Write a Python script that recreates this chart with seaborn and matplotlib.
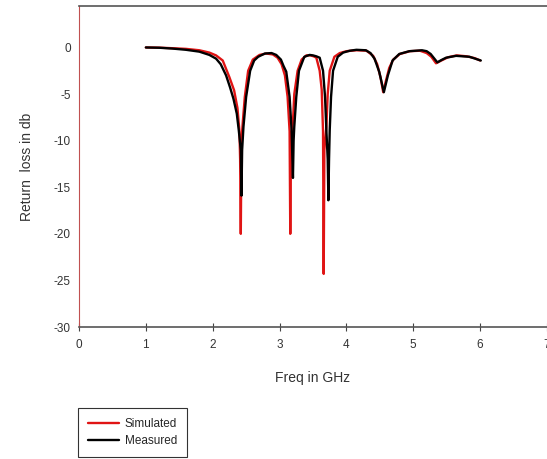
import matplotlib
matplotlib.use("Agg")
import matplotlib.pyplot as plt
import seaborn as sns
import pandas as pd

freq_sim = [1.00, 1.20, 1.40, 1.60, 1.80, 1.95, 2.05, 2.15, 2.25, 2.32, 2.37, 2.40, 2.41, 2.42,
            2.43, 2.45, 2.48, 2.53, 2.60, 2.70, 2.80, 2.90, 2.97, 3.03, 3.08, 3.12, 3.15, 3.16,
            3.17, 3.20, 3.22, 3.27, 3.33, 3.40, 3.46, 3.51, 3.55, 3.60, 3.63, 3.65, 3.66, 3.67,
            3.70, 3.72, 3.75, 3.82, 3.90, 4.00, 4.15, 4.30, 4.40, 4.46, 4.51, 4.55, 4.59, 4.64,
            4.70, 4.80, 4.95, 5.10, 5.20, 5.27, 5.34, 5.42, 5.52, 5.65, 5.80, 5.92, 6.00]
db_sim = [0.0, -0.02, -0.08, -0.15, -0.3, -0.55, -0.85, -1.4, -3.2, -4.6, -6.5, -9.0, -12.0, -20.0,
          -10.0, -8.0, -5.3, -2.5, -1.3, -0.8, -0.65, -0.75, -1.1, -1.8, -3.0, -5.3, -9.0, -20.0,
          -10.0, -8.0, -5.0, -2.5, -1.3, -0.85, -0.85, -0.95, -1.1, -2.5, -4.5, -9.0, -24.3, -11.0,
          -8.5, -5.0, -2.5, -1.0, -0.6, -0.4, -0.3, -0.35, -0.9, -1.8, -3.2, -4.8, -3.6, -2.2,
          -1.3, -0.7, -0.4, -0.35, -0.6, -1.0, -1.7, -1.4, -1.05, -0.85, -0.95, -1.15, -1.4]

freq_meas = [1.00, 1.20, 1.40, 1.60, 1.80, 1.95, 2.05, 2.12, 2.20, 2.26, 2.31, 2.36, 2.39, 2.42,
             2.43, 2.44, 2.46, 2.50, 2.56, 2.62, 2.68, 2.78, 2.88, 2.95, 3.02, 3.06, 3.10, 3.15,
             3.18, 3.20, 3.21, 3.22, 3.25, 3.29, 3.37, 3.45, 3.50, 3.55, 3.60, 3.65, 3.68, 3.70,
             3.72, 3.73, 3.74, 3.75, 3.77, 3.80, 3.87, 3.95, 4.05, 4.15, 4.29, 4.36, 4.42, 4.49,
             4.56, 4.62, 4.69, 4.79, 4.94, 5.13, 5.20, 5.26, 5.36, 5.42, 5.49, 5.64, 5.84, 6.01]
db_meas = [0.0, -0.03, -0.12, -0.25, -0.45, -0.8, -1.2, -1.8, -3.0, -4.3, -5.5, -7.1, -8.9, -11.0,
           -15.9, -11.0, -8.5, -5.3, -2.5, -1.4, -1.0, -0.65, -0.6, -0.8, -1.3, -2.0, -2.6, -5.3,
           -8.9, -14.0, -10.0, -8.5, -5.3, -2.5, -1.0, -0.8, -0.85, -0.95, -1.1, -2.5, -5.3, -8.9,
           -12.0, -16.4, -12.0, -8.9, -5.3, -2.5, -1.0, -0.55, -0.35, -0.25, -0.3, -0.6, -1.2, -2.6,
           -4.8, -3.0, -1.4, -0.7, -0.4, -0.3, -0.4, -0.7, -1.6, -1.35, -1.1, -0.9, -1.0, -1.4]

x_ticks = [0, 1, 2, 3, 4, 5, 6, 7]
y_ticks = [0, -5, -10, -15, -20, -25, -30]
series_names = ["Simulated", "Measured"]
series_colors = {"Simulated": "#e01414", "Measured": "#000000"}

df = pd.concat([
    pd.DataFrame({"freq": freq_sim, "db": db_sim, "series": "Simulated"}),
    pd.DataFrame({"freq": freq_meas, "db": db_meas, "series": "Measured"}),
], ignore_index=True)

sns.set_theme(style="white")
plt.rcParams["font.family"] = ["Liberation Sans", "DejaVu Sans"]

fig = plt.figure(figsize=(5.47, 4.59), dpi=100)
ax = fig.add_axes([79 / 547, 132 / 459, 468 / 547, 321 / 459])

sns.lineplot(data=df, x="freq", y="db", hue="series", hue_order=series_names,
             palette=series_colors, sort=False, estimator=None, units="series",
             linewidth=1.7, ax=ax, legend=False)

ax.set_xlim(0, 7)
ax.set_ylim(-30, 4.45)
ax.set_xticks(x_ticks)
ax.set_yticks(y_ticks)
ax.set_xticklabels([str(t) for t in x_ticks], fontsize=8.5, color="#333333")
ax.set_yticklabels([str(t) for t in y_ticks], fontsize=8.5, color="#333333")
ax.tick_params(axis="x", direction="inout", length=6, width=0.8, color="#444444", pad=6, bottom=True)
ax.tick_params(axis="y", length=0, pad=6, left=False)

ax.set_xlabel("Freq in GHz", fontsize=10, color="#333333", labelpad=14)
ax.set_ylabel("Return  loss in db", fontsize=10, color="#333333", labelpad=14)

for s in ["top", "bottom"]:
    ax.spines[s].set_color("#555555")
    ax.spines[s].set_linewidth(1.2)
ax.spines["left"].set_color("#c05050")
ax.spines["left"].set_linewidth(0.8)
ax.spines["right"].set_visible(False)
ax.grid(False)

handles = [plt.Line2D([], [], color=series_colors[n], linewidth=1.7) for n in series_names]
leg = fig.legend(handles, series_names, loc="lower left",
                 bbox_to_anchor=(78 / 547, 2 / 459), fontsize=8.5,
                 frameon=True, fancybox=False, shadow=False, handlelength=2.6,
                 handletextpad=0.5, labelspacing=0.45, borderpad=0.85, borderaxespad=0)
leg.get_frame().set_edgecolor("#000000")
leg.get_frame().set_linewidth(0.8)
leg.get_frame().set_boxstyle("square", pad=0)

fig.savefig("out.png", dpi=100, facecolor="white")
